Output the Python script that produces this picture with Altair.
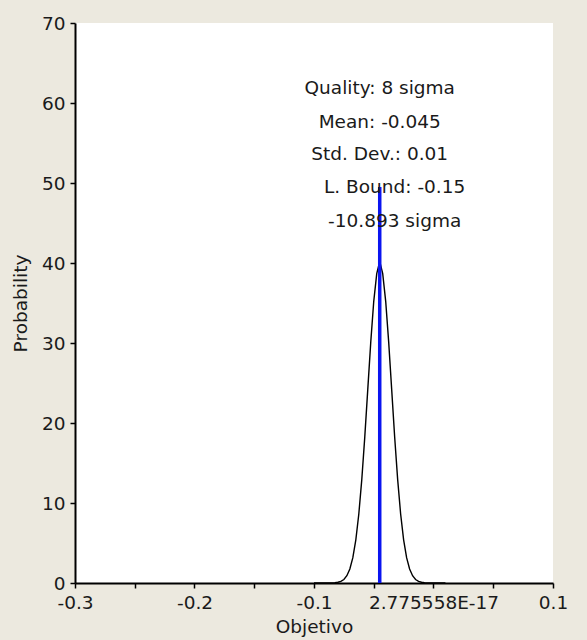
import altair as alt
import pandas as pd

# Density curve (x: Objetivo, y: Probability)
CURVE_X = [-0.1, -0.0975, -0.095, -0.0925, -0.09, -0.0875, -0.085, -0.0825, -0.08,
           -0.0775, -0.075, -0.0725, -0.07, -0.0675, -0.065, -0.0625, -0.06, -0.0575,
           -0.055, -0.0525, -0.05, -0.0475, -0.045, -0.0425, -0.04, -0.0375, -0.035,
           -0.0325, -0.03, -0.0275, -0.025, -0.0225, -0.02, -0.0175, -0.015, -0.0125,
           -0.01, -0.0075, -0.005, -0.0025, 0.0, 0.0025, 0.005, 0.0075, 0.01]
CURVE_Y = [0.0, 0.0, 0.0, 0.0, 0.0, 0.0, 0.01, 0.04, 0.09, 0.2, 0.44, 0.91, 1.75,
           3.17, 5.4, 8.63, 12.95, 18.26, 24.2, 30.11, 35.21, 38.67, 40.2, 38.67,
           35.21, 30.11, 24.2, 18.26, 12.95, 8.63, 5.4, 3.17, 1.75, 0.91, 0.44, 0.2,
           0.09, 0.04, 0.01, 0.0, 0.0, 0.0, 0.0, 0.0, 0.0]

MEAN_X = [-0.045]
MEAN_TOP = [49.5]

NOTE_TEXT = ["Quality: 8 sigma", "Mean: -0.045", "Std. Dev.: 0.01",
             "L. Bound: -0.15", "-10.893 sigma"]
NOTE_X = [-0.045, -0.045, -0.045, -0.0325, -0.0325]
NOTE_Y = [61.9, 57.6, 53.6, 49.5, 45.2]

X_TICKS = [-0.3, -0.25, -0.2, -0.15, -0.1, -0.05, 0.0, 0.05, 0.1]
X_LABELS = ["-0.3", "", "-0.2", "", "-0.1", "", "2.775558E-17", "", "0.1"]
Y_TICKS = [0, 5, 10, 15, 20, 25, 30, 35, 40, 45, 50, 55, 60, 65, 70]
Y_LABELS = ["0", "", "10", "", "20", "", "30", "", "40", "", "50", "", "60", "", "70"]


def label_expr(values, labels):
    expr = "''"
    for v, lab in reversed(list(zip(values, labels))):
        expr = f"datum.value == {v} ? '{lab}' : ({expr})"
    return expr


FONT = "DejaVu Sans"
INK = "#1a1a1a"

curve_df = pd.DataFrame({"x": CURVE_X, "y": CURVE_Y})
mean_df = pd.DataFrame({"x": MEAN_X, "y0": [0.0], "y1": MEAN_TOP})
note_df = pd.DataFrame({"text": NOTE_TEXT, "x": NOTE_X, "y": NOTE_Y})

xscale = alt.Scale(domain=[-0.3, 0.1], nice=False, zero=False)
yscale = alt.Scale(domain=[0, 70], nice=False)

xaxis = alt.Axis(values=X_TICKS, labelExpr=label_expr(X_TICKS, X_LABELS),
                 title="Objetivo", grid=False, labelFlush=False, labelOverlap=False)
yaxis = alt.Axis(values=Y_TICKS, labelExpr=label_expr(Y_TICKS, Y_LABELS),
                 title="Probability", grid=False, labelOverlap=False)

curve = alt.Chart(curve_df).mark_line(color="black", strokeWidth=1.4).encode(
    x=alt.X("x:Q", scale=xscale, axis=xaxis),
    y=alt.Y("y:Q", scale=yscale, axis=yaxis),
)

mean_line = alt.Chart(mean_df).mark_rule(color="#0a14f0", strokeWidth=3.5).encode(
    x=alt.X("x:Q", scale=xscale),
    y=alt.Y("y0:Q", scale=yscale),
    y2="y1:Q",
)

notes = alt.Chart(note_df).mark_text(
    font=FONT, fontSize=18.5, color=INK, align="center", baseline="middle"
).encode(
    x=alt.X("x:Q", scale=xscale),
    y=alt.Y("y:Q", scale=yscale),
    text="text:N",
)

chart = (
    alt.layer(curve, mean_line, notes)
    .properties(
        width=478,
        height=560,
        padding={"left": 75, "top": 23, "right": 34, "bottom": 57},
        autosize=alt.AutoSizeParams(type="none"),
        background="#ECE9DF",
    )
    .configure_view(fill="white", stroke="white", strokeWidth=0)
    .configure_axis(
        labelFont=FONT, labelFontSize=18.5, labelColor=INK,
        titleFont=FONT, titleFontSize=18.5, titleColor=INK, titleFontWeight="normal",
        domainColor="black", domainWidth=2, tickColor="black", tickWidth=1.5,
        tickSize=5, labelPadding=5,
    )
    .configure_axisX(titlePadding=6)
    .configure_axisY(titlePadding=11)
)

chart.save("out.html", embed_options={"renderer": "svg", "actions": False})
